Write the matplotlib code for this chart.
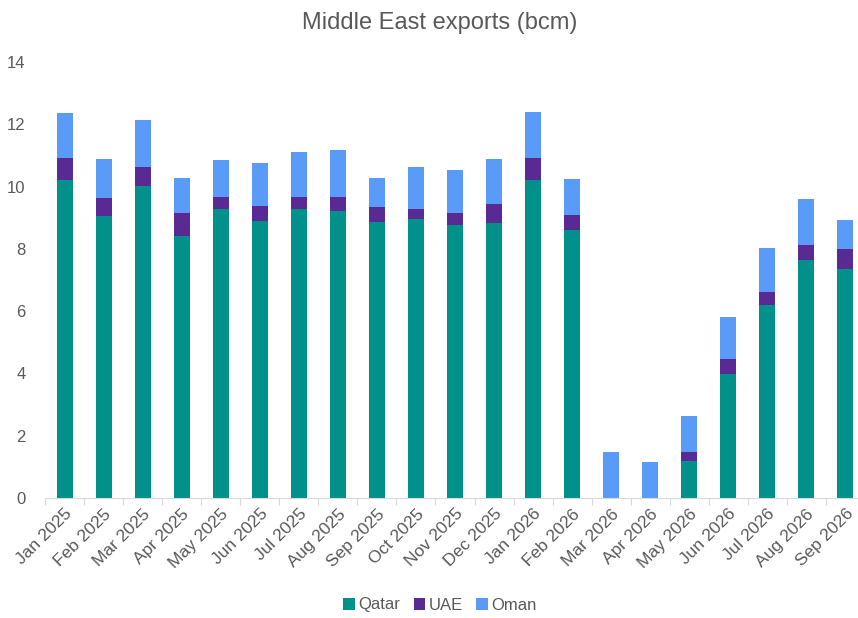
import matplotlib
matplotlib.use("Agg")
import matplotlib.pyplot as plt
import numpy as np

plt.rcParams["font.family"] = ["Liberation Sans", "DejaVu Sans"]

months = ["Jan 2025", "Feb 2025", "Mar 2025", "Apr 2025", "May 2025", "Jun 2025",
          "Jul 2025", "Aug 2025", "Sep 2025", "Oct 2025", "Nov 2025", "Dec 2025",
          "Jan 2026", "Feb 2026", "Mar 2026", "Apr 2026", "May 2026", "Jun 2026",
          "Jul 2026", "Aug 2026", "Sep 2026"]
qatar = [10.22, 9.05, 10.01, 8.42, 9.28, 8.91, 9.28, 9.22, 8.86, 8.96, 8.77, 8.82,
         10.22, 8.61, 0.0, 0.0, 1.19, 3.99, 6.20, 7.65, 7.35]
uae = [0.70, 0.57, 0.62, 0.72, 0.40, 0.48, 0.39, 0.46, 0.47, 0.32, 0.37, 0.62,
       0.70, 0.48, 0.0, 0.0, 0.30, 0.47, 0.40, 0.46, 0.65]
oman = [1.45, 1.25, 1.51, 1.15, 1.18, 1.36, 1.43, 1.51, 0.96, 1.34, 1.40, 1.45,
        1.49, 1.16, 1.47, 1.14, 1.15, 1.36, 1.44, 1.48, 0.94]

C_QATAR = "#00918a"
C_UAE = "#5a2a94"
C_OMAN = "#5b9bf8"
GREY = "#595959"

fig = plt.figure(figsize=(8.58, 6.18), dpi=100)
ax = fig.add_axes([45 / 858, 120 / 618, 820 / 858, 436 / 618])

x = np.arange(len(months))
w = 0.41
q = np.array(qatar)
u = np.array(uae)
o = np.array(oman)
ax.bar(x, q, w, color=C_QATAR, label="Qatar")
ax.bar(x, u, w, bottom=q, color=C_UAE, label="UAE")
ax.bar(x, o, w, bottom=q + u, color=C_OMAN, label="Oman")

ax.set_xlim(-0.5, len(months) - 0.5)
ax.set_ylim(0, 14)
ax.set_yticks(range(0, 15, 2))
ax.tick_params(axis="y", length=0, labelsize=12, labelcolor=GREY, pad=14)

ax.set_xticks(x)
ax.set_xticklabels(months, rotation=45, ha="right", rotation_mode="anchor",
                   fontsize=12.5, color=GREY)
ax.tick_params(axis="x", length=0, pad=6)
ax.set_xticks(np.arange(-0.5, len(months), 1), minor=True)
ax.tick_params(axis="x", which="minor", length=5, color="#d9d9d9", width=0.8)

for s in ["top", "right", "left"]:
    ax.spines[s].set_visible(False)
ax.spines["bottom"].set_color("#d9d9d9")

fig.text(0.513, 0.962, "Middle East exports (bcm)", ha="center", va="center",
         fontsize=17, color=GREY)

ax.legend(loc="center", bbox_to_anchor=(440 / 858, 13 / 618),
          bbox_transform=fig.transFigure, ncol=3, frameon=False,
          fontsize=12, labelcolor=GREY, handlelength=0.7, handleheight=0.7,
          handletextpad=0.2, columnspacing=0.8)

fig.savefig("out.png", dpi=100)
